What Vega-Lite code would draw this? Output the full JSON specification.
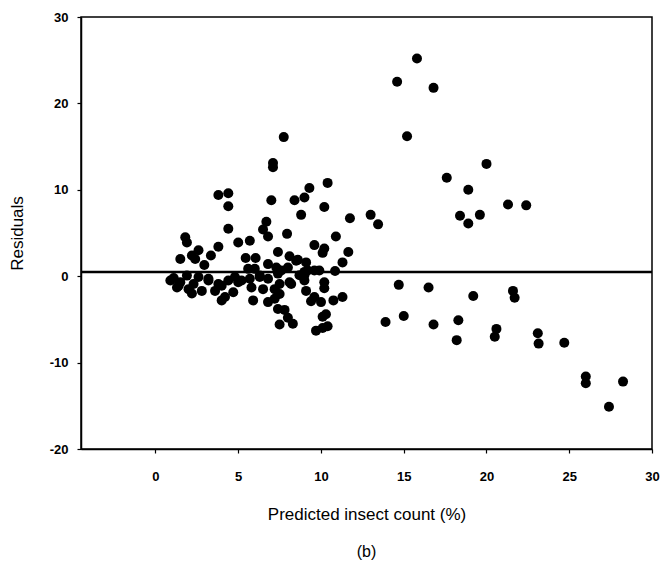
{
  "$schema": "https://vega.github.io/schema/vega-lite/v6.json",
  "width": 571,
  "height": 432,
  "padding": {"left": 8, "top": 11, "right": 8, "bottom": 5},
  "background": "white",
  "config": {
    "view": {"stroke": "black", "strokeWidth": 1.5},
    "axis": {
      "grid": false,
      "domainColor": "black",
      "domainWidth": 1.5,
      "tickColor": "black",
      "tickSize": 4,
      "tickWidth": 1.2,
      "labelFont": "Liberation Sans",
      "labelFontWeight": "bold",
      "labelFontSize": 13,
      "labelColor": "black",
      "labelExpr": "'' + datum.value",
      "titleFont": "Liberation Sans",
      "titleFontWeight": "normal",
      "titleFontSize": 17,
      "titleColor": "black"
    }
  },
  "title": {"text": "(b)", "orient": "bottom", "font": "Liberation Sans", "fontSize": 16, "fontWeight": "normal", "color": "black", "offset": 22},
  "datasets": {
    "pts": [
      {"predicted": 15.8, "residual": 25.2}, {"predicted": 14.6, "residual": 22.5}, {"predicted": 16.8, "residual": 21.8},
      {"predicted": 15.2, "residual": 16.2}, {"predicted": 20.0, "residual": 13.0}, {"predicted": 17.6, "residual": 11.4},
      {"predicted": 18.9, "residual": 10.0}, {"predicted": 18.4, "residual": 7.0}, {"predicted": 18.9, "residual": 6.1},
      {"predicted": 19.6, "residual": 7.1}, {"predicted": 21.3, "residual": 8.3}, {"predicted": 22.4, "residual": 8.2},
      {"predicted": 13.0, "residual": 7.1}, {"predicted": 13.45, "residual": 6.0}, {"predicted": 11.75, "residual": 6.7},
      {"predicted": 14.7, "residual": -1.0}, {"predicted": 16.5, "residual": -1.3}, {"predicted": 19.2, "residual": -2.3},
      {"predicted": 21.6, "residual": -1.7}, {"predicted": 21.7, "residual": -2.5}, {"predicted": 13.9, "residual": -5.3},
      {"predicted": 15.0, "residual": -4.6}, {"predicted": 16.8, "residual": -5.6}, {"predicted": 18.3, "residual": -5.1},
      {"predicted": 18.2, "residual": -7.4}, {"predicted": 20.6, "residual": -6.1}, {"predicted": 20.5, "residual": -7.0},
      {"predicted": 23.1, "residual": -6.6}, {"predicted": 23.15, "residual": -7.8}, {"predicted": 24.7, "residual": -7.7},
      {"predicted": 26.0, "residual": -11.6}, {"predicted": 26.0, "residual": -12.4}, {"predicted": 28.25, "residual": -12.2},
      {"predicted": 27.4, "residual": -15.1},
      {"predicted": 10.4, "residual": 10.8}, {"predicted": 9.3, "residual": 10.2}, {"predicted": 9.0, "residual": 9.1},
      {"predicted": 10.2, "residual": 8.0}, {"predicted": 8.8, "residual": 7.1}, {"predicted": 10.9, "residual": 4.6},
      {"predicted": 9.6, "residual": 3.6}, {"predicted": 10.2, "residual": 3.2}, {"predicted": 10.1, "residual": 2.7},
      {"predicted": 11.65, "residual": 2.8}, {"predicted": 11.3, "residual": 1.6}, {"predicted": 9.1, "residual": 1.6},
      {"predicted": 8.6, "residual": 1.9}, {"predicted": 9.6, "residual": 0.65}, {"predicted": 10.85, "residual": 0.6},
      {"predicted": 9.9, "residual": 0.65}, {"predicted": 9.0, "residual": 0.1}, {"predicted": 10.2, "residual": -0.7},
      {"predicted": 10.2, "residual": -1.4}, {"predicted": 9.1, "residual": -1.7}, {"predicted": 9.6, "residual": -2.4},
      {"predicted": 10.0, "residual": -3.0}, {"predicted": 10.75, "residual": -2.8}, {"predicted": 11.3, "residual": -2.4},
      {"predicted": 10.3, "residual": -4.4}, {"predicted": 10.4, "residual": -5.8}, {"predicted": 9.7, "residual": -6.3},
      {"predicted": 10.1, "residual": -6.0}, {"predicted": 9.0, "residual": 0.5}, {"predicted": 9.0, "residual": -0.5},
      {"predicted": 10.1, "residual": -4.7}, {"predicted": 9.4, "residual": -2.9}, {"predicted": 9.2, "residual": 0.65},
      {"predicted": 7.75, "residual": 16.1}, {"predicted": 7.1, "residual": 13.1}, {"predicted": 7.1, "residual": 12.6},
      {"predicted": 7.0, "residual": 8.8}, {"predicted": 8.4, "residual": 8.8}, {"predicted": 6.7, "residual": 6.3},
      {"predicted": 6.5, "residual": 5.4}, {"predicted": 6.8, "residual": 4.6}, {"predicted": 7.95, "residual": 4.9},
      {"predicted": 7.4, "residual": 2.8}, {"predicted": 8.1, "residual": 2.3}, {"predicted": 8.5, "residual": 1.8},
      {"predicted": 8.0, "residual": 1.0}, {"predicted": 7.6, "residual": 0.65}, {"predicted": 7.3, "residual": 1.0},
      {"predicted": 8.7, "residual": 0.1}, {"predicted": 7.4, "residual": 0.3}, {"predicted": 8.1, "residual": -0.7},
      {"predicted": 7.5, "residual": -0.9}, {"predicted": 8.2, "residual": -0.9}, {"predicted": 7.2, "residual": -1.5},
      {"predicted": 7.5, "residual": -2.05}, {"predicted": 7.2, "residual": -2.6}, {"predicted": 7.4, "residual": -3.8},
      {"predicted": 7.8, "residual": -3.9}, {"predicted": 8.0, "residual": -4.8}, {"predicted": 8.3, "residual": -5.5},
      {"predicted": 7.5, "residual": -5.6},
      {"predicted": 3.8, "residual": 9.4}, {"predicted": 4.4, "residual": 9.6}, {"predicted": 4.4, "residual": 8.1},
      {"predicted": 4.4, "residual": 5.5}, {"predicted": 5.0, "residual": 3.9}, {"predicted": 5.7, "residual": 4.1},
      {"predicted": 3.8, "residual": 3.4}, {"predicted": 5.45, "residual": 2.1}, {"predicted": 6.05, "residual": 2.1},
      {"predicted": 6.8, "residual": 1.4}, {"predicted": 5.6, "residual": 0.85}, {"predicted": 6.0, "residual": 0.85},
      {"predicted": 6.3, "residual": 0.07}, {"predicted": 4.8, "residual": -0.1}, {"predicted": 5.2, "residual": -0.5},
      {"predicted": 5.7, "residual": -0.3}, {"predicted": 6.3, "residual": -0.1}, {"predicted": 6.8, "residual": -0.3},
      {"predicted": 4.4, "residual": -0.5}, {"predicted": 3.8, "residual": -0.9}, {"predicted": 3.2, "residual": -0.3},
      {"predicted": 3.6, "residual": -1.7}, {"predicted": 4.2, "residual": -2.4}, {"predicted": 4.7, "residual": -1.85},
      {"predicted": 5.8, "residual": -1.3}, {"predicted": 6.5, "residual": -1.5}, {"predicted": 4.0, "residual": -2.8},
      {"predicted": 5.9, "residual": -2.8}, {"predicted": 6.8, "residual": -3.0}, {"predicted": 5.0, "residual": -0.7},
      {"predicted": 4.0, "residual": -1.1},
      {"predicted": 1.8, "residual": 4.5}, {"predicted": 1.9, "residual": 3.9}, {"predicted": 2.6, "residual": 3.0},
      {"predicted": 2.2, "residual": 2.4}, {"predicted": 1.5, "residual": 2.0}, {"predicted": 3.35, "residual": 2.4},
      {"predicted": 2.95, "residual": 1.3}, {"predicted": 2.4, "residual": 2.0}, {"predicted": 0.9, "residual": -0.5},
      {"predicted": 1.5, "residual": -0.7}, {"predicted": 1.4, "residual": -1.1}, {"predicted": 1.9, "residual": 0.07},
      {"predicted": 2.3, "residual": -0.9}, {"predicted": 2.2, "residual": -2.0}, {"predicted": 2.8, "residual": -1.7},
      {"predicted": 1.3, "residual": -1.3}, {"predicted": 2.6, "residual": -0.1}, {"predicted": 3.2, "residual": -0.5},
      {"predicted": 1.1, "residual": -0.2}, {"predicted": 2.0, "residual": -1.5}
    ]
  },
  "layer": [
    {
      "data": {"name": "pts"},
      "mark": {"type": "circle", "size": 100, "color": "black", "opacity": 1},
      "encoding": {
        "x": {
          "field": "predicted", "type": "quantitative",
          "scale": {"domain": [-4.5, 30], "nice": false, "zero": false},
          "axis": {"title": "Predicted insect count (%)", "values": [0, 5, 10, 15, 20, 25, 30], "labelPadding": 17, "titlePadding": 23, "labelFlush": false}
        },
        "y": {
          "field": "residual", "type": "quantitative",
          "scale": {"domain": [-20, 30], "nice": false, "zero": false},
          "axis": {"title": "Residuals", "values": [-20, -10, 0, 10, 20, 30], "labelPadding": 9, "titlePadding": 23}
        }
      }
    },
    {
      "data": {"values": [{"ref": 0.5}]},
      "mark": {"type": "rule", "strokeWidth": 2.5, "color": "black"},
      "encoding": {"y": {"field": "ref", "type": "quantitative"}}
    }
  ]
}
